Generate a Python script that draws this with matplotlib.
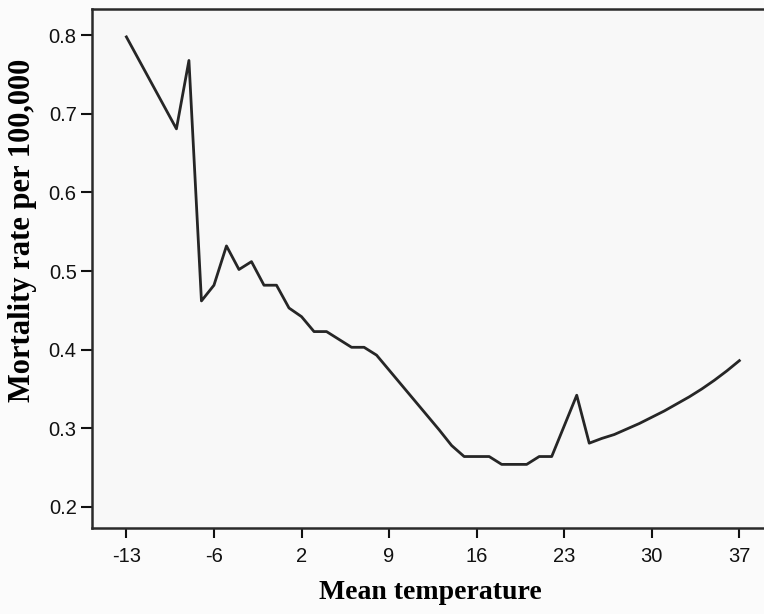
import matplotlib
matplotlib.use('Agg')
import matplotlib.pyplot as plt

# temperature categories on the x axis (one value between -6 and 2 absent)
categories = list(range(-13, 0)) + list(range(1, 38))
tick_labels = ['-13', '-6', '2', '9', '16', '23', '30', '37']

temps = [-13, -9, -8, -7, -6, -5, -4, -3, -2, -1, 1, 2, 3, 4, 5, 6, 7, 8, 9,
         10, 11, 12, 13, 14, 15, 16, 17, 18, 19, 20, 21, 22, 23, 24, 25, 26,
         27, 28, 29, 30, 31, 32, 33, 34, 35, 36, 37]
rates = [0.798, 0.681, 0.768, 0.462, 0.482, 0.532, 0.502, 0.512, 0.482, 0.482,
         0.453, 0.442, 0.423, 0.423, 0.413, 0.403, 0.403, 0.393, 0.374, 0.355,
         0.336, 0.317, 0.298, 0.278, 0.264, 0.264, 0.264, 0.254, 0.254, 0.254,
         0.264, 0.264, 0.303, 0.342, 0.281, 0.287, 0.292, 0.299, 0.306, 0.314,
         0.322, 0.331, 0.340, 0.350, 0.361, 0.373, 0.386]


def main():
    plt.rcParams['font.family'] = ['Liberation Sans Narrow', 'Liberation Sans', 'DejaVu Sans']
    fig = plt.figure(figsize=(7.64, 6.14), dpi=100)
    fig.patch.set_facecolor('#fbfbfb')
    ax = fig.add_axes([0.1204, 0.14, 0.885, 0.846])
    ax.set_facecolor('#f8f8f8')

    xs = [categories.index(t) for t in temps]
    ax.plot(xs, rates, color='#262626', linewidth=2.0)

    ax.set_xlim(-2.75, 51.3)
    ax.set_ylim(0.173, 0.834)

    ax.set_xticks(range(0, len(categories), 7))
    ax.set_xticklabels(tick_labels)
    ax.set_yticks([0.2, 0.3, 0.4, 0.5, 0.6, 0.7, 0.8])
    ax.set_yticklabels(['0.2', '0.3', '0.4', '0.5', '0.6', '0.7', '0.8'])

    ax.tick_params(axis='both', labelsize=14.5, colors='#111111', width=1.5)
    ax.tick_params(axis='x', length=7, pad=7)
    ax.tick_params(axis='y', length=8, pad=3)

    for spin in ['left', 'bottom', 'top']:
        ax.spines[spin].set_linewidth(1.8)
        ax.spines[spin].set_color('#2a2a2a')
    ax.spines['right'].set_visible(False)

    ax.set_xlabel('Mean temperature', family='Liberation Serif', weight='bold',
                  size=20, labelpad=10)
    fig.text(0.030, 1 - 230 / 614, 'Mortality rate per 100,000', family='Liberation Serif',
             weight='bold', size=22, rotation=90, ha='center', va='center')

    fig.savefig('out.png', dpi=100)


if __name__ == '__main__':
    main()
